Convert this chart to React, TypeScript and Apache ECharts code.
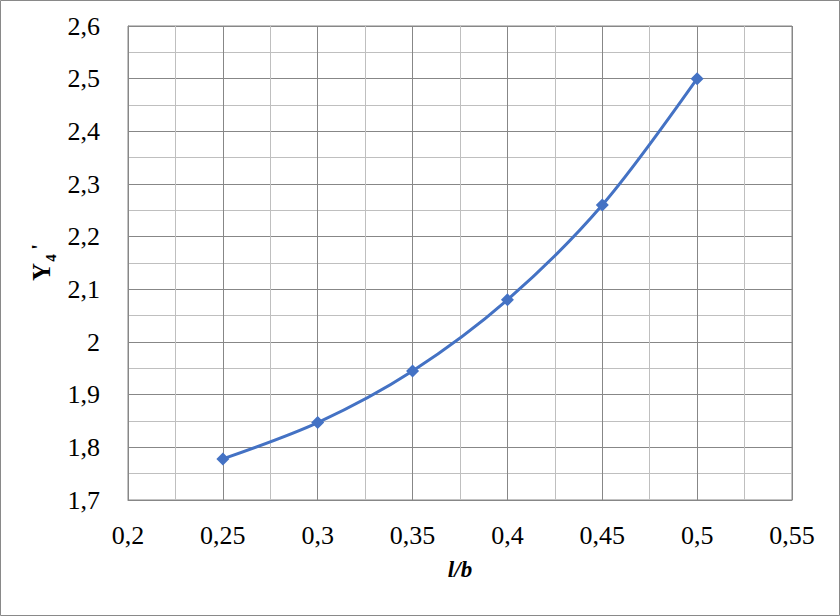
import React, { useEffect, useRef } from "react";
import * as echarts from "echarts";

const xValues = [0.25, 0.3, 0.35, 0.4, 0.45, 0.5];
const yValues = [1.778, 1.847, 1.945, 2.08, 2.26, 2.5];
const xAxisTitle = "l/b";
const yAxisTitle = ["Y", "4", "'"];

const fmt = (v: number) => String(+Number(v).toFixed(3)).replace(".", ",");

export default function App() {
  const ref = useRef<HTMLDivElement>(null);
  useEffect(() => {
    document.body.style.margin = "0";
    const chart = echarts.init(ref.current!, null, { renderer: "svg" });
    const font = "'Liberation Serif', 'Times New Roman', serif";
    chart.setOption({
      animation: false,
      backgroundColor: "#ffffff",
      grid: { left: 128, right: 48, top: 26, bottom: 116, show: true, borderColor: "#878787", borderWidth: 1 },
      xAxis: {
        type: "value",
        min: 0.2,
        max: 0.55,
        interval: 0.05,
        name: xAxisTitle,
        nameLocation: "middle",
        nameGap: 58,
        nameTextStyle: { fontFamily: font, fontSize: 23, fontWeight: "bold", fontStyle: "italic", color: "#000" },
        axisLine: { show: true, lineStyle: { color: "#878787", width: 1 } },
        axisTick: { show: false },
        axisLabel: { formatter: fmt, fontFamily: font, fontSize: 26, color: "#000", margin: 22 },
        splitLine: { show: true, lineStyle: { color: "#878787", width: 1 } },
        minorTick: { show: false, splitNumber: 2 },
        minorSplitLine: { show: true, lineStyle: { color: "#bfbfbf", width: 1 } },
      },
      yAxis: {
        type: "value",
        min: 1.7,
        max: 2.6,
        interval: 0.1,
        axisLine: { show: true, lineStyle: { color: "#878787", width: 1 } },
        axisTick: { show: false },
        axisLabel: { formatter: fmt, fontFamily: font, fontSize: 26, color: "#000", margin: 28 },
        splitLine: { show: true, lineStyle: { color: "#878787", width: 1 } },
        minorTick: { show: false, splitNumber: 2 },
        minorSplitLine: { show: true, lineStyle: { color: "#bfbfbf", width: 1 } },
      },
      graphic: [
        {
          type: "rect",
          shape: { x: 0.5, y: 0.5, width: 839, height: 615 },
          style: { fill: "none", stroke: "#898989", lineWidth: 1 },
          silent: true,
        },
        {
          type: "text",
          x: 41,
          y: 272,
          rotation: Math.PI / 2,
          style: { text: yAxisTitle[0], fontFamily: font, fontSize: 25, fontWeight: "bold", fill: "#000", align: "center", verticalAlign: "middle" },
        },
        {
          type: "text",
          x: 51,
          y: 258,
          rotation: Math.PI / 2,
          style: { text: yAxisTitle[1], fontFamily: font, fontSize: 15, fontWeight: "bold", fill: "#000", align: "center", verticalAlign: "middle" },
        },
        {
          type: "text",
          x: 38,
          y: 247,
          rotation: Math.PI / 2,
          style: { text: yAxisTitle[2], fontFamily: font, fontSize: 22, fontWeight: "bold", fill: "#000", align: "center", verticalAlign: "middle" },
        },
      ],
      series: [
        {
          type: "line",
          data: xValues.map((x, i) => [x, yValues[i]]),
          smooth: 0.3,
          symbol: "diamond",
          symbolSize: 13,
          itemStyle: { color: "#4472C4" },
          lineStyle: { color: "#4472C4", width: 3 },
        },
      ],
    });
    return () => chart.dispose();
  }, []);
  return <div ref={ref} style={{ position: "absolute", left: 0, top: 0, width: 840, height: 616 }} />;
}
